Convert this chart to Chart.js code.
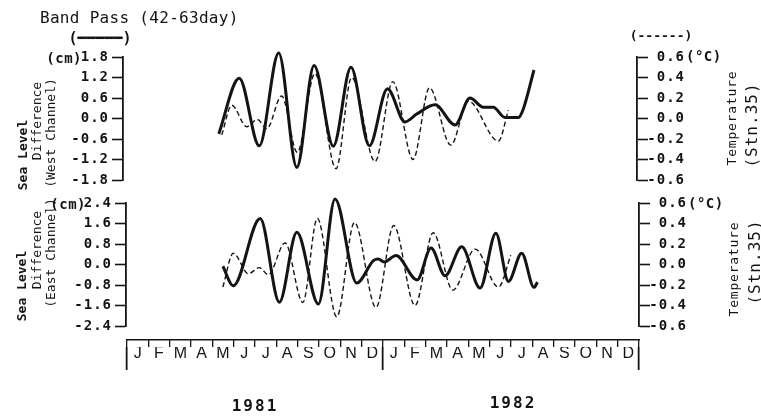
<!DOCTYPE html>
<html>
<head>
<meta charset="utf-8">
<script src="https://cdn.jsdelivr.net/npm/chart.js@4/dist/chart.umd.min.js"></script>
<style>
  html, body { margin: 0; padding: 0; background: #fff; }
  #wrap { position: relative; width: 761px; height: 417px; overflow: hidden; background: #fff; }
  #wrap canvas { position: absolute; left: 0; top: 0; }
  .lbl { position: absolute; white-space: nowrap; color: #141414; font-family: 'DejaVu Sans Mono', monospace; line-height: 1; }
  .rot { transform: translate(-50%, -50%) rotate(-90deg); }
  .ctr { transform: translate(-50%, -50%); }
  .rgt { transform: translate(-100%, -50%); }
  .lft { transform: translate(0, -50%); }
</style>
</head>
<body>
<div id="wrap">
  <canvas id="westPanel" width="761" height="417"></canvas>
  <canvas id="eastPanel" width="761" height="417"></canvas>
  <canvas id="monthBand" width="761" height="417"></canvas>

  <div class="lbl" style="left:40px;top:10px;font-size:16px;letter-spacing:0.3px;">Band Pass (42-63day)</div>
  <div class="lbl ctr" style="left:100px;top:38px;font-size:15px;font-weight:bold;">(━━━━━)</div>
  <div class="lbl ctr" style="left:661px;top:35px;font-size:13px;font-weight:bold;">(------)</div>

  <div class="lbl rgt" style="left:82px;top:58px;font-size:14px;font-weight:bold;letter-spacing:0.5px;">(cm)</div>
  <div class="lbl lft" style="left:686px;top:56px;font-size:14px;font-weight:bold;letter-spacing:0.5px;">(°C)</div>
  <div class="lbl rgt" style="left:86px;top:204px;font-size:14px;font-weight:bold;letter-spacing:0.5px;">(cm)</div>
  <div class="lbl lft" style="left:688px;top:203px;font-size:14px;font-weight:bold;letter-spacing:0.5px;">(°C)</div>

  <div class="lbl rot" style="left:22px;top:155px;font-size:13px;font-weight:bold;">Sea Level</div>
  <div class="lbl rot" style="left:36px;top:121px;font-size:13px;">Difference</div>
  <div class="lbl rot" style="left:50px;top:133px;font-size:13px;">(West Channel)</div>
  <div class="lbl rot" style="left:21px;top:286px;font-size:13px;font-weight:bold;">Sea Level</div>
  <div class="lbl rot" style="left:36px;top:250px;font-size:13px;">Difference</div>
  <div class="lbl rot" style="left:50px;top:253px;font-size:13px;">(East Channel)</div>

  <div class="lbl rot" style="left:731px;top:118px;font-size:13px;letter-spacing:0.8px;">Temperature</div>
  <div class="lbl rot" style="left:752px;top:125px;font-size:16px;letter-spacing:1px;">(Stn.35)</div>
  <div class="lbl rot" style="left:733px;top:269px;font-size:13px;letter-spacing:0.8px;">Temperature</div>
  <div class="lbl rot" style="left:755px;top:262px;font-size:16px;letter-spacing:1px;">(Stn.35)</div>

  <div id="year0" class="lbl ctr" style="left:255px;top:406px;font-size:16px;font-weight:bold;letter-spacing:2px;"></div>
  <div id="year1" class="lbl ctr" style="left:513px;top:403px;font-size:16px;font-weight:bold;letter-spacing:2px;"></div>
</div>

<script>
// Time is measured in months from 1 Jan 1981.

// West channel sea level difference (cm), band-passed
const westLevelMonths = [4.30, 5.26, 6.20, 7.11, 7.96, 8.77, 9.67, 10.50, 11.36, 12.21, 13.03, 13.58, 14.44, 15.38, 16.08, 16.70, 17.17, 17.72, 18.35, 18.58, 19.08];
const westLevel       = [-0.45, 1.18, -0.80, 1.92, -1.43, 1.55, -0.81, 1.50, -0.80, 0.87, -0.10, 0.13, 0.40, -0.19, 0.60, 0.33, 0.33, 0.03, 0.03, 0.28, 1.42];

// Temperature at Stn.35 (deg C), upper panel
const westTempMonths = [4.44, 4.91, 5.61, 6.11, 6.55, 7.25, 7.98, 8.81, 9.80, 10.53, 11.63, 12.46, 13.41, 14.18, 15.18, 16.00, 17.41, 17.88];
const westTemp       = [-0.16, 0.13, -0.08, -0.01, -0.10, 0.22, -0.33, 0.44, -0.49, 0.40, -0.42, 0.36, -0.40, 0.30, -0.26, 0.17, -0.22, 0.08];

// East channel sea level difference (cm), band-passed
const eastLevelMonths = [4.49, 4.98, 6.24, 7.14, 7.96, 8.97, 9.75, 10.77, 11.55, 11.78, 12.05, 12.61, 13.60, 14.25, 14.91, 15.69, 16.55, 17.29, 17.88, 18.50, 19.08, 19.24];
const eastLevel       = [-0.07, -0.83, 1.80, -1.47, 1.26, -1.54, 2.56, -0.72, 0.15, 0.21, 0.10, 0.35, -0.60, 0.64, -0.44, 0.69, -0.92, 1.22, -0.66, 0.44, -0.89, -0.69];

// Temperature at Stn.35 (deg C), lower panel
const eastTempMonths = [4.49, 4.98, 5.69, 6.20, 6.62, 7.41, 8.24, 8.92, 9.83, 10.66, 11.67, 12.50, 13.50, 14.35, 15.27, 16.32, 17.41, 17.99];
const eastTemp       = [-0.22, 0.11, -0.09, -0.03, -0.10, 0.21, -0.37, 0.45, -0.51, 0.41, -0.42, 0.38, -0.40, 0.31, -0.25, 0.15, -0.22, 0.09];

// Axis ticks and labels
const westLevelTicks = [-1.8, -1.2, -0.6, 0.0, 0.6, 1.2, 1.8];
const eastLevelTicks = [-2.4, -1.6, -0.8, 0.0, 0.8, 1.6, 2.4];
const tempTicks      = [-0.6, -0.4, -0.2, 0.0, 0.2, 0.4, 0.6];
const monthLetters   = ['J', 'F', 'M', 'A', 'M', 'J', 'J', 'A', 'S', 'O', 'N', 'D'];
const years          = ['1981', '1982'];

const INK = '#141414';
const W = 761, H = 417;

document.getElementById('year0').textContent = years[0];
document.getElementById('year1').textContent = years[1];

const fmt = v => (Math.abs(v) < 1e-9 ? '0.0' : v.toFixed(1));
const pts = (xs, ys) => xs.map((x, i) => ({ x: x, y: ys[i] }));

function spacing(px) {
  return { id: 'spacing', beforeDraw(chart) { chart.ctx.letterSpacing = px; } };
}

function tickAxis(position, ticks, boxWidth, isRight) {
  return {
    position: position,
    min: ticks[0],
    max: ticks[ticks.length - 1],
    afterBuildTicks: s => { s.ticks = ticks.map(v => ({ value: v })); },
    afterFit: s => { s.width = boxWidth; },
    grid: { drawOnChartArea: false, drawTicks: true, tickLength: 11, tickWidth: 1.6, tickColor: INK },
    border: { display: true, color: INK, width: 1.8 },
    ticks: {
      padding: 3,
      crossAlign: isRight ? 'far' : 'near',
      color: INK,
      font: { family: 'DejaVu Sans Mono', size: 14, weight: 'bold' },
      callback: v => fmt(v)
    }
  };
}

// area: chart-area edges; labelEdge: outer edge of the right-hand tick labels
function panel(id, area, labelEdge, xRange, levelTicks, levelData, tempData) {
  return new Chart(document.getElementById(id), {
    type: 'line',
    data: {
      datasets: [
        { data: levelData, yAxisID: 'y', borderColor: INK, borderWidth: 3, clip: false,
          pointRadius: 0, cubicInterpolationMode: 'monotone', fill: false },
        { data: tempData, yAxisID: 't', borderColor: INK, borderWidth: 1.4, borderDash: [5, 3], clip: false,
          pointRadius: 0, cubicInterpolationMode: 'monotone', fill: false }
      ]
    },
    options: {
      responsive: false,
      animation: false,
      events: [],
      layout: { padding: { left: 0, right: W - labelEdge, top: area.top, bottom: H - area.bottom } },
      plugins: { legend: { display: false }, tooltip: { enabled: false } },
      scales: {
        x: { type: 'linear', display: false, min: xRange[0], max: xRange[1] },
        y: tickAxis('left', levelTicks, area.left, false),
        t: tickAxis('right', tempTicks, labelEdge - area.right, true)
      }
    },
    plugins: [spacing('1px')]
  });
}

panel('westPanel', { left: 123, right: 637, top: 57, bottom: 180 }, 685, [-0.19, 23.91],
      westLevelTicks, pts(westLevelMonths, westLevel), pts(westTempMonths, westTemp));

panel('eastPanel', { left: 126, right: 639, top: 203, bottom: 326 }, 687, [-0.05, 24.0],
      eastLevelTicks, pts(eastLevelMonths, eastLevel), pts(eastTempMonths, eastTemp));

// Month band under the panels, two years of J..D
const monthLabels = years.flatMap(() => monthLetters);
const yearEdge = c => (c.type !== 'tick' || c.index % monthLetters.length === 0) ? INK : 'rgba(0,0,0,0)';

new Chart(document.getElementById('monthBand'), {
  type: 'line',
  data: { labels: monthLabels, datasets: [] },
  options: {
    responsive: false,
    animation: false,
    events: [],
    layout: { padding: { left: 127, right: W - 639, top: 340, bottom: H - 347 - 23 } },
    plugins: { legend: { display: false }, tooltip: { enabled: false } },
    scales: {
      y: { display: false },
      x: {
        type: 'category',
        position: 'bottom',
        offset: true,
        afterFit: s => { s.height = 23; },
        grid: { offset: true, drawOnChartArea: true, color: INK, lineWidth: 1.3,
                drawTicks: true, tickLength: 23, tickWidth: 1.8, tickColor: yearEdge },
        border: { display: false },
        ticks: { autoSkip: false, maxRotation: 0, padding: -26.5, color: INK,
                 font: { family: 'Liberation Sans', size: 16 } }
      },
      x2: {
        type: 'category',
        labels: monthLabels,
        position: 'top',
        offset: true,
        afterFit: s => { s.height = 0; },
        grid: { display: false },
        border: { display: true, color: INK, width: 1.6 },
        ticks: { display: false }
      }
    }
  }
});
</script>
</body>
</html>
